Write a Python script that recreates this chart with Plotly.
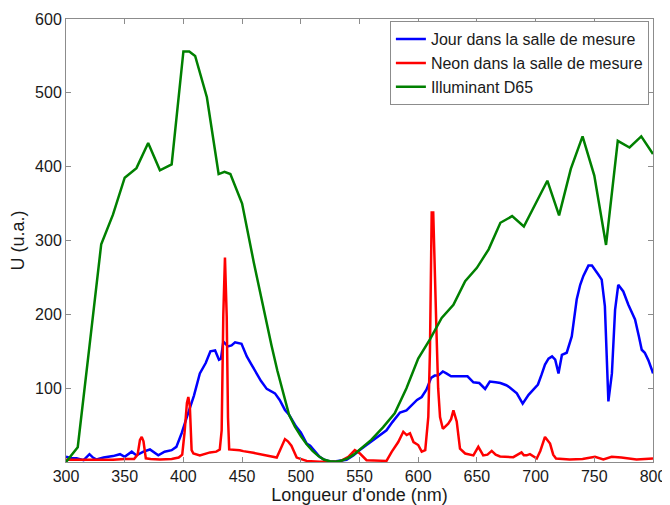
import plotly.graph_objects as go

# Jour dans la salle de mesure (blue)
jour_x = [300, 305, 309, 315, 320, 323, 326, 332, 340, 346, 350, 356, 360, 366, 371.5, 378.6, 384, 390, 394,
          398.5, 403, 406, 409, 414, 419, 423, 427, 430.3, 432, 434, 438, 441, 444, 449.5, 454, 458, 462, 466,
          471, 475, 478, 482, 486.5, 490, 496, 500, 505, 508, 512, 516, 520, 525, 530, 535, 539, 545, 550, 556,
          562, 567, 573, 578, 584.5, 590, 595, 599, 603, 607, 611, 614, 617, 621, 624, 628, 635, 642, 647, 652,
          657, 661, 666, 670, 675, 678, 684, 689, 694, 698, 702, 705, 708, 711, 714, 716.7, 719.5, 722.4, 726.5,
          730.8, 735, 738, 740.7, 745, 748, 753.4, 756.3, 759, 762, 765, 767.7, 770.4, 774.7, 779, 784.7, 788,
          790.4, 793, 796, 799, 800]
jour_y = [7, 5, 5, 2.5, 10.6, 6, 3.4, 6, 8, 10.6, 7, 14, 9, 14, 17, 9, 14, 16, 20.5,
          39, 61, 75, 90, 120, 134, 150, 151, 138.5, 140, 163, 156.6, 158, 162, 160, 143, 132, 120, 110,
          99, 96, 93, 84, 70.5, 64, 48, 40, 25, 22, 14, 7, 3, 0.5, 1, 2, 3, 9, 16, 23,
          30, 36, 43, 54, 67, 70, 78, 84, 88, 98, 114, 117, 117, 122.6, 120, 116, 116, 116, 108, 107,
          99, 109, 108, 107, 104, 101, 93, 79, 91, 98, 105, 118, 132, 140, 143, 138.5, 120, 145, 148,
          170, 220, 240, 252, 266, 266, 254, 247, 211, 82, 120, 206, 240, 231, 213, 193, 170,
          152, 148, 138, 125, 120]

# Neon dans la salle de mesure (red)
neon_x = [300, 310, 320, 330, 340, 350, 358, 361, 363, 364.5, 366, 368, 372, 380, 390, 396, 399, 401, 403,
          404.2, 405.5, 407, 408.5, 414, 422.7, 428, 431, 432.6, 434, 435.4, 436, 436.9, 438, 439, 448, 451,
          459.6, 471, 476.6, 479.5, 482.3, 486.5, 489, 492, 496.5, 505, 516, 533, 540.5, 546, 548, 550.4, 556,
          573, 577.4, 583, 587.3, 590.2, 593, 596, 600, 603, 606, 608.6, 610, 611.5, 612.8, 614, 615.6, 617,
          618.6, 621, 625.6, 628, 630, 632.8, 635.6, 640, 644, 647, 651.2, 655.4, 659, 662.6, 666, 669.7, 681,
          688, 690, 692.4, 695.2, 701, 704, 708, 712.3, 715, 717.4, 729, 740, 750.6, 757.7, 764.8, 773, 786, 800]
neon_y = [3, 3, 2, 3, 3, 4, 4, 10, 30, 34, 28, 5, 4, 3.4, 4, 6, 10, 40, 80,
          88, 75, 16, 11.5, 9, 13, 14, 17, 43, 200, 277, 240, 197, 60, 17, 16, 14.7,
          12.4, 9, 7, 6, 16, 31, 28, 22, 6, 1.5, 0.5, 0.5, 7, 16, 14, 11.5, 2.4,
          1.5, 13.7, 27, 41, 36.5, 39, 27, 23, 14, 16, 61, 150, 338, 338, 250, 175, 100,
          61, 45, 52, 58, 70, 55, 18, 11.5, 10.6, 9, 20.5, 9, 10, 15, 10, 7.5, 6.5,
          13, 9, 9, 10.6, 4.8, 15, 34, 25, 10, 4.8, 3.4, 4, 7, 3.4, 7, 6, 3.4, 4.8]

# Illuminant D65 (green)
d65_x = [300, 310, 320, 330, 340, 350, 360, 370, 380, 390, 400, 405, 410, 420, 430, 435, 440, 450, 460, 470,
         475, 480, 485, 490, 495, 500, 505, 510, 515, 520, 525, 530, 535, 540, 545, 550, 555, 560, 570, 580,
         590, 600, 610, 620, 630, 640, 650, 660, 670, 680, 690, 700, 710, 720, 730, 740, 750, 760, 770, 780,
         790, 800]
d65_y = [0, 20, 157, 295, 335, 385, 398, 432, 395, 403, 556, 556, 550, 494, 390, 393, 390, 350, 270, 193,
         158, 124, 92, 64, 48, 35, 24, 15, 8, 3, 1, 0.5, 2, 5, 10, 17, 23, 30, 47, 66,
         100, 140, 166, 195, 213, 245, 263, 288, 324, 333, 319, 350, 381, 334, 397, 441, 388, 294, 435, 426,
         441, 417]

x_ticks = [300, 350, 400, 450, 500, 550, 600, 650, 700, 750, 800]
y_ticks = [100, 200, 300, 400, 500, 600]

FONT = "Liberation Sans, Arial, sans-serif"

fig = go.Figure()
fig.add_trace(go.Scatter(x=jour_x, y=jour_y, mode="lines", name="Jour dans la salle de mesure",
                         line=dict(color="#0000FF", width=2.5)))
fig.add_trace(go.Scatter(x=neon_x, y=neon_y, mode="lines", name="Neon dans la salle de mesure",
                         line=dict(color="#FF0000", width=2.5)))
fig.add_trace(go.Scatter(x=d65_x, y=d65_y, mode="lines", name="Illuminant D65",
                         line=dict(color="#008000", width=2.5)))

axis_common = dict(showgrid=False, zeroline=False, showline=True, linecolor="#8c8c8c", linewidth=1,
                   mirror="ticks", ticks="inside", ticklen=5, tickcolor="#8c8c8c", automargin=False,
                   tickfont=dict(family=FONT, size=16, color="#1a1a1a"))

# page body has an 8 px default margin, so the figure is sized to fit the 670x505 window
fig.update_layout(
    width=662, height=497,
    margin=dict(l=58, r=17, t=11, b=43),
    paper_bgcolor="white", plot_bgcolor="white",
    font=dict(family=FONT, color="#1a1a1a"),
    xaxis=dict(range=[300, 800], tickvals=x_ticks, ticktext=[str(v) for v in x_ticks],
               title=dict(text="Longueur d'onde (nm)", font=dict(family=FONT, size=18), standoff=2),
               **axis_common),
    yaxis=dict(range=[0, 600], tickvals=y_ticks, ticktext=[str(v) for v in y_ticks],
               title=dict(text="U (u.a.)", font=dict(family=FONT, size=18), standoff=10),
               **axis_common),
    legend=dict(x=0.993, y=0.995, xanchor="right", yanchor="top", bgcolor="white",
                bordercolor="#8c8c8c", borderwidth=1, font=dict(family=FONT, size=16, color="#1a1a1a"),
                itemwidth=30, tracegroupgap=0),
    showlegend=True,
)

fig.write_html("out.html")
